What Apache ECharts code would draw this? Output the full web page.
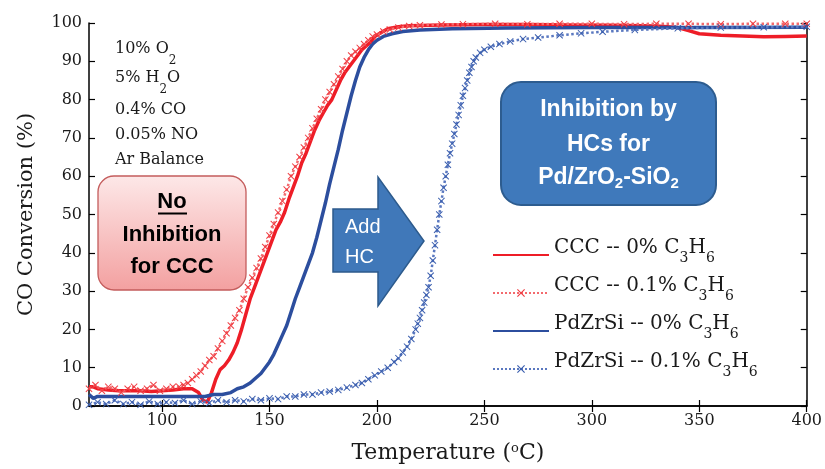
<!DOCTYPE html>
<html><head><meta charset="utf-8">
<script src="https://cdn.jsdelivr.net/npm/echarts@6/dist/echarts.min.js"></script>
<style>html,body{margin:0;padding:0;background:#fff}#c{width:825px;height:469px}</style>
</head><body><div id="c"></div>
<script>
// ---- data (temperature °C, CO conversion %) ----
const xTicks = [100, 150, 200, 250, 300, 350, 400];
const seriesNames = ['CCC -- 0% C3H6', 'CCC -- 0.1% C3H6', 'PdZrSi -- 0% C3H6', 'PdZrSi -- 0.1% C3H6'];

const ccc0 = [[66,5],[68,5],[70,4.5],[75,4.2],[80,4],[85,4],[90,4],[95,3.8],[100,4],[105,4.2],[110,4.5],[114,4.5],[117,3.5],[119,1.5],[121,1],[123,3.5],[125,7],[127,9.5],[129,10.5],[131,12],[133,14],[135,16.5],[137,20],[139,24],[141,28],[143,31],[145,34],[147,37],[149,40],[151,43],[153,46],[155,48],[157,50.5],[159,54],[161,57],[163,60],[165,63.5],[167,66],[169,69],[171,72],[173,74.5],[175,76.5],[177,78.5],[179,80],[181,82.5],[183,85],[185,87],[187,88.5],[189,90],[191,91.5],[193,93],[195,94],[197,95],[199,96.5],[202,97.5],[205,98.5],[210,99],[215,99.3],[230,99.5],[250,99.6],[270,99.6],[290,99.5],[310,99.4],[330,99.2],[340,98.8],[345,98],[350,97.2],[360,96.8],[370,96.6],[380,96.4],[390,96.5],[400,96.6]];

const ccc01 = [[66,4.5],[69,5.5],[72,4],[75,5],[78,4.5],[81,3.5],[84,4.5],[87,5],[90,4],[93,4.5],[96,5.5],[99,4],[102,4.5],[105,5],[108,5],[110,5.5],[112,6],[114,7],[116,8],[118,9],[120,10.5],[122,12],[124,13],[126,15],[128,17],[130,19],[132,21],[134,23],[136,25],[138,28],[140,31],[142,33.5],[144,36],[146,38.5],[148,41.5],[150,44.5],[152,47.5],[154,50.5],[156,53.5],[158,56.5],[160,60],[162,62.5],[164,65],[166,67.5],[168,70],[170,72.5],[172,75],[174,77.5],[176,80],[178,82],[180,84],[182,86],[184,88],[186,90],[188,91.5],[190,92.5],[192,93.5],[194,94.5],[196,95.5],[198,96.5],[200,97],[203,97.8],[206,98.3],[210,98.8],[215,99.2],[220,99.4],[230,99.6],[240,99.7],[255,99.8],[270,99.7],[285,99.8],[300,99.8],[315,99.7],[330,99.8],[345,99.8],[360,99.7],[375,99.8],[390,99.8],[400,99.8]];

const pdz0 = [[66,3],[68,2],[70,2.5],[75,2.5],[80,2.5],[85,2.5],[90,2.5],[95,2.5],[100,2.5],[105,2.5],[110,2.5],[115,2.5],[120,2.5],[124,3],[128,3],[132,3.5],[135,4.5],[138,5],[141,6],[144,7.5],[146,8.5],[148,10],[150,11.5],[152,13.5],[154,16],[156,18.5],[158,21],[160,24.5],[162,28],[164,31],[166,34],[168,37],[170,40],[172,44],[174,48.5],[176,53],[178,58],[180,62.5],[182,67],[184,72],[186,76.5],[188,81],[190,85],[192,88.5],[194,91],[196,93],[198,94.5],[200,95.5],[203,96.5],[207,97.2],[212,97.8],[220,98.2],[235,98.5],[260,98.7],[300,98.8],[350,98.8],[400,98.9]];

const pdz01 = [[66,0.3],[70,1],[74,0.5],[78,1.5],[82,0.5],[86,1],[90,0.3],[94,1.2],[98,0.5],[102,1],[106,0.8],[110,1.5],[114,0.5],[118,1.2],[122,0.8],[126,1.5],[130,1],[134,1.5],[138,1.2],[142,1.8],[146,1.5],[150,2],[154,1.8],[158,2.5],[162,2.5],[166,3],[170,3],[174,3.5],[178,3.8],[182,4.2],[186,4.8],[190,5.5],[193,6],[196,7],[199,8],[202,9],[205,10],[208,11.5],[210,12.5],[212,14],[214,15.5],[216,17.5],[218,20],[219,21.5],[220,23],[221,25],[222,27],[223,29],[224,31],[225,34],[226,38],[227,42],[228,46],[229,50],[230,53.5],[231,57],[232,60],[233,63],[234,66],[235,68.5],[236,71],[237,73.5],[238,76],[239,78.5],[240,81],[241,83],[242,85],[243,87],[244,88.5],[245,90],[246,91],[248,92.2],[250,93],[253,93.8],[257,94.5],[262,95.2],[268,95.8],[275,96.2],[285,96.8],[295,97.3],[305,97.7],[320,98.2],[340,98.6],[360,98.8],[380,98.9],[400,99]];

// ---- styling ----
const RED = '#ee1d27', RED_L = '#f03c42', BLUE = '#2c4e9e', BLUE_L = '#3a5eae';
const XSYM = 'path://M0,1L1,0L5,4L9,0L10,1L6,5L10,9L9,10L5,6L1,10L0,9L4,5Z';
const SERIF = 'DejaVu Serif', SANS = 'Liberation Sans';

const legendFmt = {
  'CCC -- 0% C3H6': '{m|CCC -- 0% C}{s|3}{m|H}{s|6}{h| }',
  'CCC -- 0.1% C3H6': '{m|CCC -- 0.1% C}{s|3}{m|H}{s|6}{h| }',
  'PdZrSi -- 0% C3H6': '{m|PdZrSi -- 0% C}{s|3}{m|H}{s|6}{h| }',
  'PdZrSi -- 0.1% C3H6': '{m|PdZrSi -- 0.1% C}{s|3}{m|H}{s|6}{h| }'
};

const chart = echarts.init(document.getElementById('c'), null, {renderer: 'canvas'});

function solid(name, data, color) {
  return {name, type: 'line', data, symbol: 'none', smooth: false,
    lineStyle: {color, width: 3.5}, itemStyle: {color}, animation: false};
}
function dotted(name, data, color, lcolor) {
  return {name, type: 'line', data, symbol: XSYM, symbolSize: 7, showAllSymbol: true,
    lineStyle: {color: lcolor, width: 2.5, type: 'dotted'}, itemStyle: {color}, animation: false};
}

const axisLine = {show: true, lineStyle: {color: '#000', width: 1.5}};
const tick = (cv) => ({show: true, inside: true, length: 6, lineStyle: {color: '#000', width: 1.2}, customValues: cv});

const subRich = {
  m: {fontFamily: SERIF, fontSize: 16, lineHeight: 18, verticalAlign: 'top', color: '#1a1a1a'},
  s: {fontFamily: SERIF, fontSize: 12, lineHeight: 14, verticalAlign: 'bottom', padding: [0, 0, 2, 0], color: '#1a1a1a'},
  h: {fontSize: 1, lineHeight: 28}
};

function noteText(x, y, text, rich) {
  return {type: 'text', z: 100, style: {x, y, text, rich, fontFamily: SERIF, fontSize: 16, fill: '#1a1a1a', align: 'left', verticalAlign: rich ? 'top' : 'middle'}};
}

chart.setOption({
  animation: false,
  grid: {left: 89, right: 16, top: 23, bottom: 63, containLabel: false},
  xAxis: [
    {type: 'value', min: 66, max: 400, position: 'bottom', axisLine, axisTick: tick(xTicks),
      axisLabel: {customValues: xTicks, fontFamily: SERIF, fontSize: 16, color: '#1a1a1a', margin: 7},
      splitLine: {show: false},
      name: 'Temperature ({sup|o}C)', nameLocation: 'middle', nameGap: 36,
      nameTextStyle: {fontFamily: SERIF, fontSize: 22, color: '#1a1a1a',
        rich: {sup: {fontFamily: SERIF, fontSize: 13, lineHeight: 14, verticalAlign: 'top', color: '#1a1a1a'}}}},
    {type: 'value', min: 66, max: 400, position: 'top', axisLine, axisTick: tick(xTicks),
      axisLabel: {show: false}, splitLine: {show: false}}
  ],
  yAxis: [
    {type: 'value', min: 0, max: 100, interval: 10, position: 'left', axisLine,
      axisTick: {show: true, inside: true, length: 6, lineStyle: {color: '#000', width: 1.2}},
      axisLabel: {fontFamily: SERIF, fontSize: 16, color: '#1a1a1a', margin: 7},
      splitLine: {show: false},
      name: 'CO Conversion (%)', nameLocation: 'middle', nameGap: 52,
      nameTextStyle: {fontFamily: SERIF, fontSize: 21, color: '#1a1a1a', padding: [0, 0, 0, 0]}},
    {type: 'value', min: 0, max: 100, interval: 10, position: 'right', axisLine,
      axisTick: {show: true, inside: true, length: 6, lineStyle: {color: '#000', width: 1.2}},
      axisLabel: {show: false}, splitLine: {show: false}}
  ],
  legend: {
    orient: 'vertical', left: 492, top: 238, padding: 0, itemGap: 4,
    itemWidth: 56, itemHeight: 10, selectedMode: false,
    data: [
      {name: seriesNames[0], itemStyle: {opacity: 0}},
      {name: seriesNames[1]},
      {name: seriesNames[2], itemStyle: {opacity: 0}},
      {name: seriesNames[3]}
    ],
    formatter: (n) => legendFmt[n],
    textStyle: {fontFamily: SERIF, fontSize: 20, color: '#1a1a1a',
      rich: {
        m: {fontFamily: SERIF, fontSize: 20, lineHeight: 20, verticalAlign: 'top', color: '#1a1a1a'},
        s: {fontFamily: SERIF, fontSize: 14, lineHeight: 26, verticalAlign: 'bottom', padding: [0, 0, 7, 0], color: '#1a1a1a'},
        h: {fontSize: 1, lineHeight: 34}
      }}
  },
  series: [
    solid(seriesNames[0], ccc0, RED),
    dotted(seriesNames[1], ccc01, RED_L, '#f36a6e'),
    solid(seriesNames[2], pdz0, BLUE),
    dotted(seriesNames[3], pdz01, BLUE_L, '#5a78c0')
  ],
  graphic: [
    // conditions text
    noteText(115, 41, '{m|10% O}{s|2}{h| }', subRich),
    noteText(115, 70, '{m|5% H}{s|2}{m|O}{h| }', subRich),
    noteText(115, 110, '0.4% CO'),
    noteText(115, 135, '0.05% NO'),
    noteText(115, 160, 'Ar Balance'),
    // pink box
    {type: 'rect', z: 100, shape: {x: 98, y: 176, width: 148, height: 114, r: 16},
      style: {fill: new echarts.graphic.LinearGradient(0, 0, 0, 1, [{offset: 0, color: '#fde8e8'}, {offset: 1, color: '#f3a0a0'}]),
        stroke: '#c45c5c', lineWidth: 1.3}},
    {type: 'text', z: 101, style: {x: 172, y: 202, text: 'No', fontFamily: SANS, fontWeight: 'bold', fontSize: 22, fill: '#000', align: 'center', verticalAlign: 'middle'}},
    {type: 'line', z: 101, shape: {x1: 158, y1: 213.5, x2: 187, y2: 213.5}, style: {stroke: '#000', lineWidth: 2}},
    {type: 'text', z: 101, style: {x: 172, y: 235, text: 'Inhibition', fontFamily: SANS, fontWeight: 'bold', fontSize: 22, fill: '#000', align: 'center', verticalAlign: 'middle'}},
    {type: 'text', z: 101, style: {x: 172, y: 267, text: 'for CCC', fontFamily: SANS, fontWeight: 'bold', fontSize: 22, fill: '#000', align: 'center', verticalAlign: 'middle'}},
    // arrow
    {type: 'polygon', z: 100, shape: {points: [[333, 209], [378, 209], [378, 177], [424, 241], [378, 306], [378, 272], [333, 272]]},
      style: {fill: '#4078b9', stroke: '#2c5a8c', lineWidth: 1.5}},
    {type: 'text', z: 101, style: {x: 345, y: 227, text: 'Add', fontFamily: SANS, fontSize: 20, fill: '#fff', align: 'left', verticalAlign: 'middle'}},
    {type: 'text', z: 101, style: {x: 345, y: 257, text: 'HC', fontFamily: SANS, fontSize: 20, fill: '#fff', align: 'left', verticalAlign: 'middle'}},
    // blue box
    {type: 'rect', z: 100, shape: {x: 501, y: 82, width: 215, height: 123, r: 20},
      style: {fill: '#3f79bb', stroke: '#2d5c8f', lineWidth: 2}},
    {type: 'text', z: 101, style: {x: 608.5, y: 110, text: 'Inhibition by', fontFamily: SANS, fontWeight: 'bold', fontSize: 23, fill: '#fff', align: 'center', verticalAlign: 'middle'}},
    {type: 'text', z: 101, style: {x: 608.5, y: 145, text: 'HCs for', fontFamily: SANS, fontWeight: 'bold', fontSize: 23, fill: '#fff', align: 'center', verticalAlign: 'middle'}},
    {type: 'text', z: 101, style: {x: 608.5, y: 178, text: '{m|Pd/ZrO}{s|2}{m|-SiO}{s|2}', align: 'center', verticalAlign: 'middle',
      rich: {m: {fontFamily: SANS, fontWeight: 'bold', fontSize: 23, lineHeight: 26, fill: '#fff', color: '#fff'},
             s: {fontFamily: SANS, fontWeight: 'bold', fontSize: 15, lineHeight: 14, verticalAlign: 'bottom', fill: '#fff', color: '#fff'}}}}
  ]
});
</script></body></html>
